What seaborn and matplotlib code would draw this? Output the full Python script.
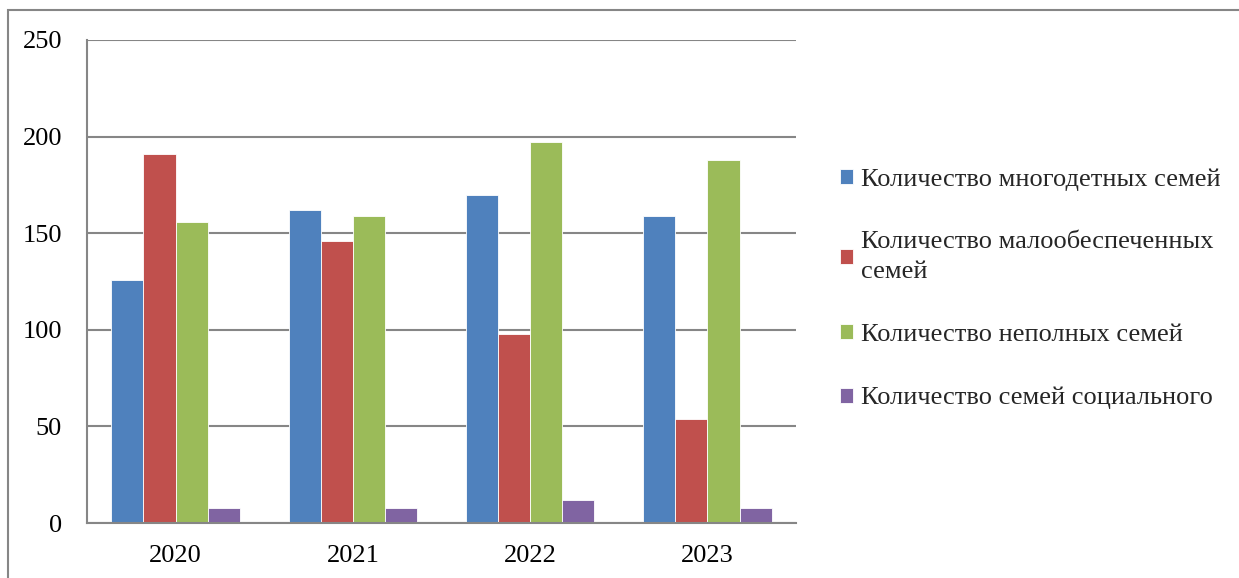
import pandas as pd
import numpy as np
import matplotlib
matplotlib.use("Agg")
import matplotlib.pyplot as plt
import seaborn as sns
from matplotlib.patches import Rectangle

# Data
years = ["2020", "2021", "2022", "2023"]
series = [
    "Количество многодетных семей",
    "Количество малообеспеченных\nсемей",
    "Количество неполных семей",
    "Количество семей социального",
]
mnogodetnye = [126, 162, 170, 159]
maloobespechennye = [191, 146, 98, 54]
nepolnye = [156, 159, 197, 188]
socialnye = [8, 8, 12, 8]
colors = ["#4F81BD", "#C0504D", "#9BBB59", "#8064A2"]

df = pd.DataFrame({
    "year": years * 4,
    "series": np.repeat(series, len(years)),
    "value": mnogodetnye + maloobespechennye + nepolnye + socialnye,
})

sns.set_style("white")
plt.rcParams["font.family"] = ["Liberation Serif", "DejaVu Serif"]

fig = plt.figure(figsize=(12.39, 5.78), dpi=100)
ax = fig.add_axes([87 / 1239, 55 / 578, (796 - 87) / 1239, (523 - 40) / 578])

sns.barplot(data=df, x="year", y="value", hue="series", palette=colors,
            width=0.725, edgecolor="white", linewidth=0.6, saturation=1, ax=ax)

grey = "#868686"
ax.set_ylim(0, 250)
ax.set_xlim(-0.5, 3.5)
ax.set_yticks(range(0, 251, 50))
ax.yaxis.grid(True, color=grey, linewidth=1.5)
ax.set_axisbelow(True)
ax.set_xlabel("")
ax.set_ylabel("")

for side in ["top", "right"]:
    ax.spines[side].set_visible(False)
for side in ["left", "bottom"]:
    ax.spines[side].set_color(grey)
    ax.spines[side].set_linewidth(1.5)

ax.tick_params(axis="x", which="major", length=0, labelsize=19, pad=16, colors="black")
ax.set_xticks(np.arange(-0.5, 4, 1), minor=True)
ax.tick_params(axis="x", which="minor", length=7, width=1.5, color=grey, direction="out")
ax.tick_params(axis="y", length=7, width=1.5, color=grey, direction="out",
               labelsize=19, pad=11, labelcolor="black")

handles, labels = ax.get_legend_handles_labels()
leg = ax.legend(handles, labels, loc="center left", bbox_to_anchor=(1.047, 0.485),
                frameon=False, fontsize=19, handlelength=0.5, handleheight=0.5,
                handletextpad=0.3, labelspacing=1.55, borderaxespad=0)
for t in leg.get_texts():
    t.set_linespacing(1.45)

# outer chart border (left and top visible)
fig.patches.append(Rectangle((8 / 1239, -0.1), 1.2, 0.1 + 568 / 578,
                             transform=fig.transFigure, fill=False,
                             edgecolor=grey, linewidth=1.5))

fig.savefig("out.png", dpi=100)
